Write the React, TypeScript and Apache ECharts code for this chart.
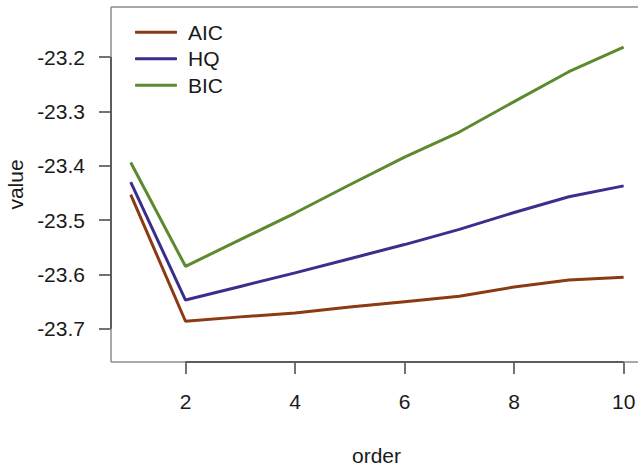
import React, { useEffect, useRef } from "react";
import * as echarts from "echarts";

const orders = [1, 2, 3, 4, 5, 6, 7, 8, 9, 10];
const aic = [-23.453, -23.686, -23.678, -23.671, -23.660, -23.650, -23.640, -23.623, -23.610, -23.605];
const hq = [-23.430, -23.647, -23.622, -23.597, -23.571, -23.545, -23.517, -23.486, -23.457, -23.437];
const bic = [-23.394, -23.585, -23.536, -23.487, -23.435, -23.384, -23.338, -23.282, -23.227, -23.182];
const xTicks = [2, 4, 6, 8, 10];
const yTicks = [-23.7, -23.6, -23.5, -23.4, -23.3, -23.2];
const seriesNames = ["AIC", "HQ", "BIC"];
const seriesColors = ["#8b3a14", "#3a2f8c", "#5b8a2f"];

const FONT = "Liberation Sans, Arial, Helvetica, sans-serif";
const FS = 21;

export default function App() {
  const ref = useRef<HTMLDivElement>(null);
  useEffect(() => {
    if (!ref.current) return;
    const chart = echarts.init(ref.current, null, { renderer: "svg" });
    const xMin = 0.64, xMax = 10.335, yMin = -23.761, yMax = -23.108;
    const values = [aic, hq, bic];
    chart.setOption({
      animation: false,
      grid: {
        left: 111, top: 7, width: 531, height: 355,
        outerBoundsMode: "none", containLabel: false,
        show: false,
      },
      legend: {
        orient: "vertical", left: 130, top: 14, itemGap: 0,
        itemWidth: 42, itemHeight: 3, icon: "roundRect",
        data: seriesNames,
        textStyle: { fontFamily: FONT, fontSize: FS, color: "#1a1a1a", lineHeight: 26.5, padding: [0, 0, 0, 6] },
      },
      xAxis: {
        type: "value", min: xMin, max: xMax,
        name: "order", nameLocation: "middle", nameGap: 83,
        nameTextStyle: { fontFamily: FONT, fontSize: FS, color: "#1a1a1a" },
        axisLine: { show: false },
        axisTick: { show: true, length: 12, customValues: xTicks, lineStyle: { color: "#444", width: 1.5 } },
        axisLabel: { customValues: xTicks, margin: 29, fontFamily: FONT, fontSize: FS, color: "#1a1a1a", hideOverlap: false },
        splitLine: { show: false },
      },
      yAxis: {
        type: "value", min: yMin, max: yMax,
        name: "value", nameLocation: "middle", nameGap: 76, nameRotate: 90,
        nameTextStyle: { fontFamily: FONT, fontSize: FS, color: "#1a1a1a" },
        axisLine: { show: false },
        axisTick: { show: true, length: 12, customValues: yTicks, lineStyle: { color: "#444", width: 1.5 } },
        axisLabel: {
          customValues: yTicks, margin: 26, fontFamily: FONT, fontSize: FS, color: "#1a1a1a",
          formatter: (v: number) => v.toFixed(1),
        },
        splitLine: { show: false },
      },
      series: seriesNames.map((name, i) => ({
        name, type: "line", showSymbol: false, symbol: "none",
        data: orders.map((o, j) => [o, values[i][j]]),
        lineStyle: { color: seriesColors[i], width: 3 },
        itemStyle: { color: seriesColors[i] },
      })),
    });
    const px = (x: number, y: number) => chart.convertToPixel({ gridIndex: 0 }, [x, y]) as number[];
    const tl = px(xMin, yMax);
    const bl = px(xMin, yMin);
    const p0 = px(xTicks[0], yMin);
    const p1 = px(xTicks[xTicks.length - 1], yMin);
    const q0 = px(xMin, yTicks[0]);
    const q1 = px(xMin, yTicks[yTicks.length - 1]);
    const boxStyle = { stroke: "#8c8c8c", lineWidth: 1.5 };
    const axStyle = { stroke: "#444", lineWidth: 1.5 };
    const edge = 638;
    chart.setOption({
      graphic: [
        { type: "line", shape: { x1: tl[0], y1: tl[1], x2: edge, y2: tl[1] }, style: boxStyle, z: 5 },
        { type: "line", shape: { x1: tl[0], y1: tl[1], x2: bl[0], y2: bl[1] }, style: boxStyle, z: 5 },
        { type: "line", shape: { x1: bl[0], y1: bl[1], x2: edge, y2: bl[1] }, style: boxStyle, z: 5 },
        { type: "line", shape: { x1: p0[0], y1: p0[1], x2: p1[0], y2: p1[1] }, style: axStyle, z: 10 },
        { type: "line", shape: { x1: q0[0], y1: q0[1], x2: q1[0], y2: q1[1] }, style: axStyle, z: 10 },
      ],
    });
    return () => chart.dispose();
  }, []);
  return (
    <div
      ref={ref}
      style={{ position: "fixed", left: 0, top: 0, width: 638, height: 466, background: "#fff" }}
    />
  );
}
